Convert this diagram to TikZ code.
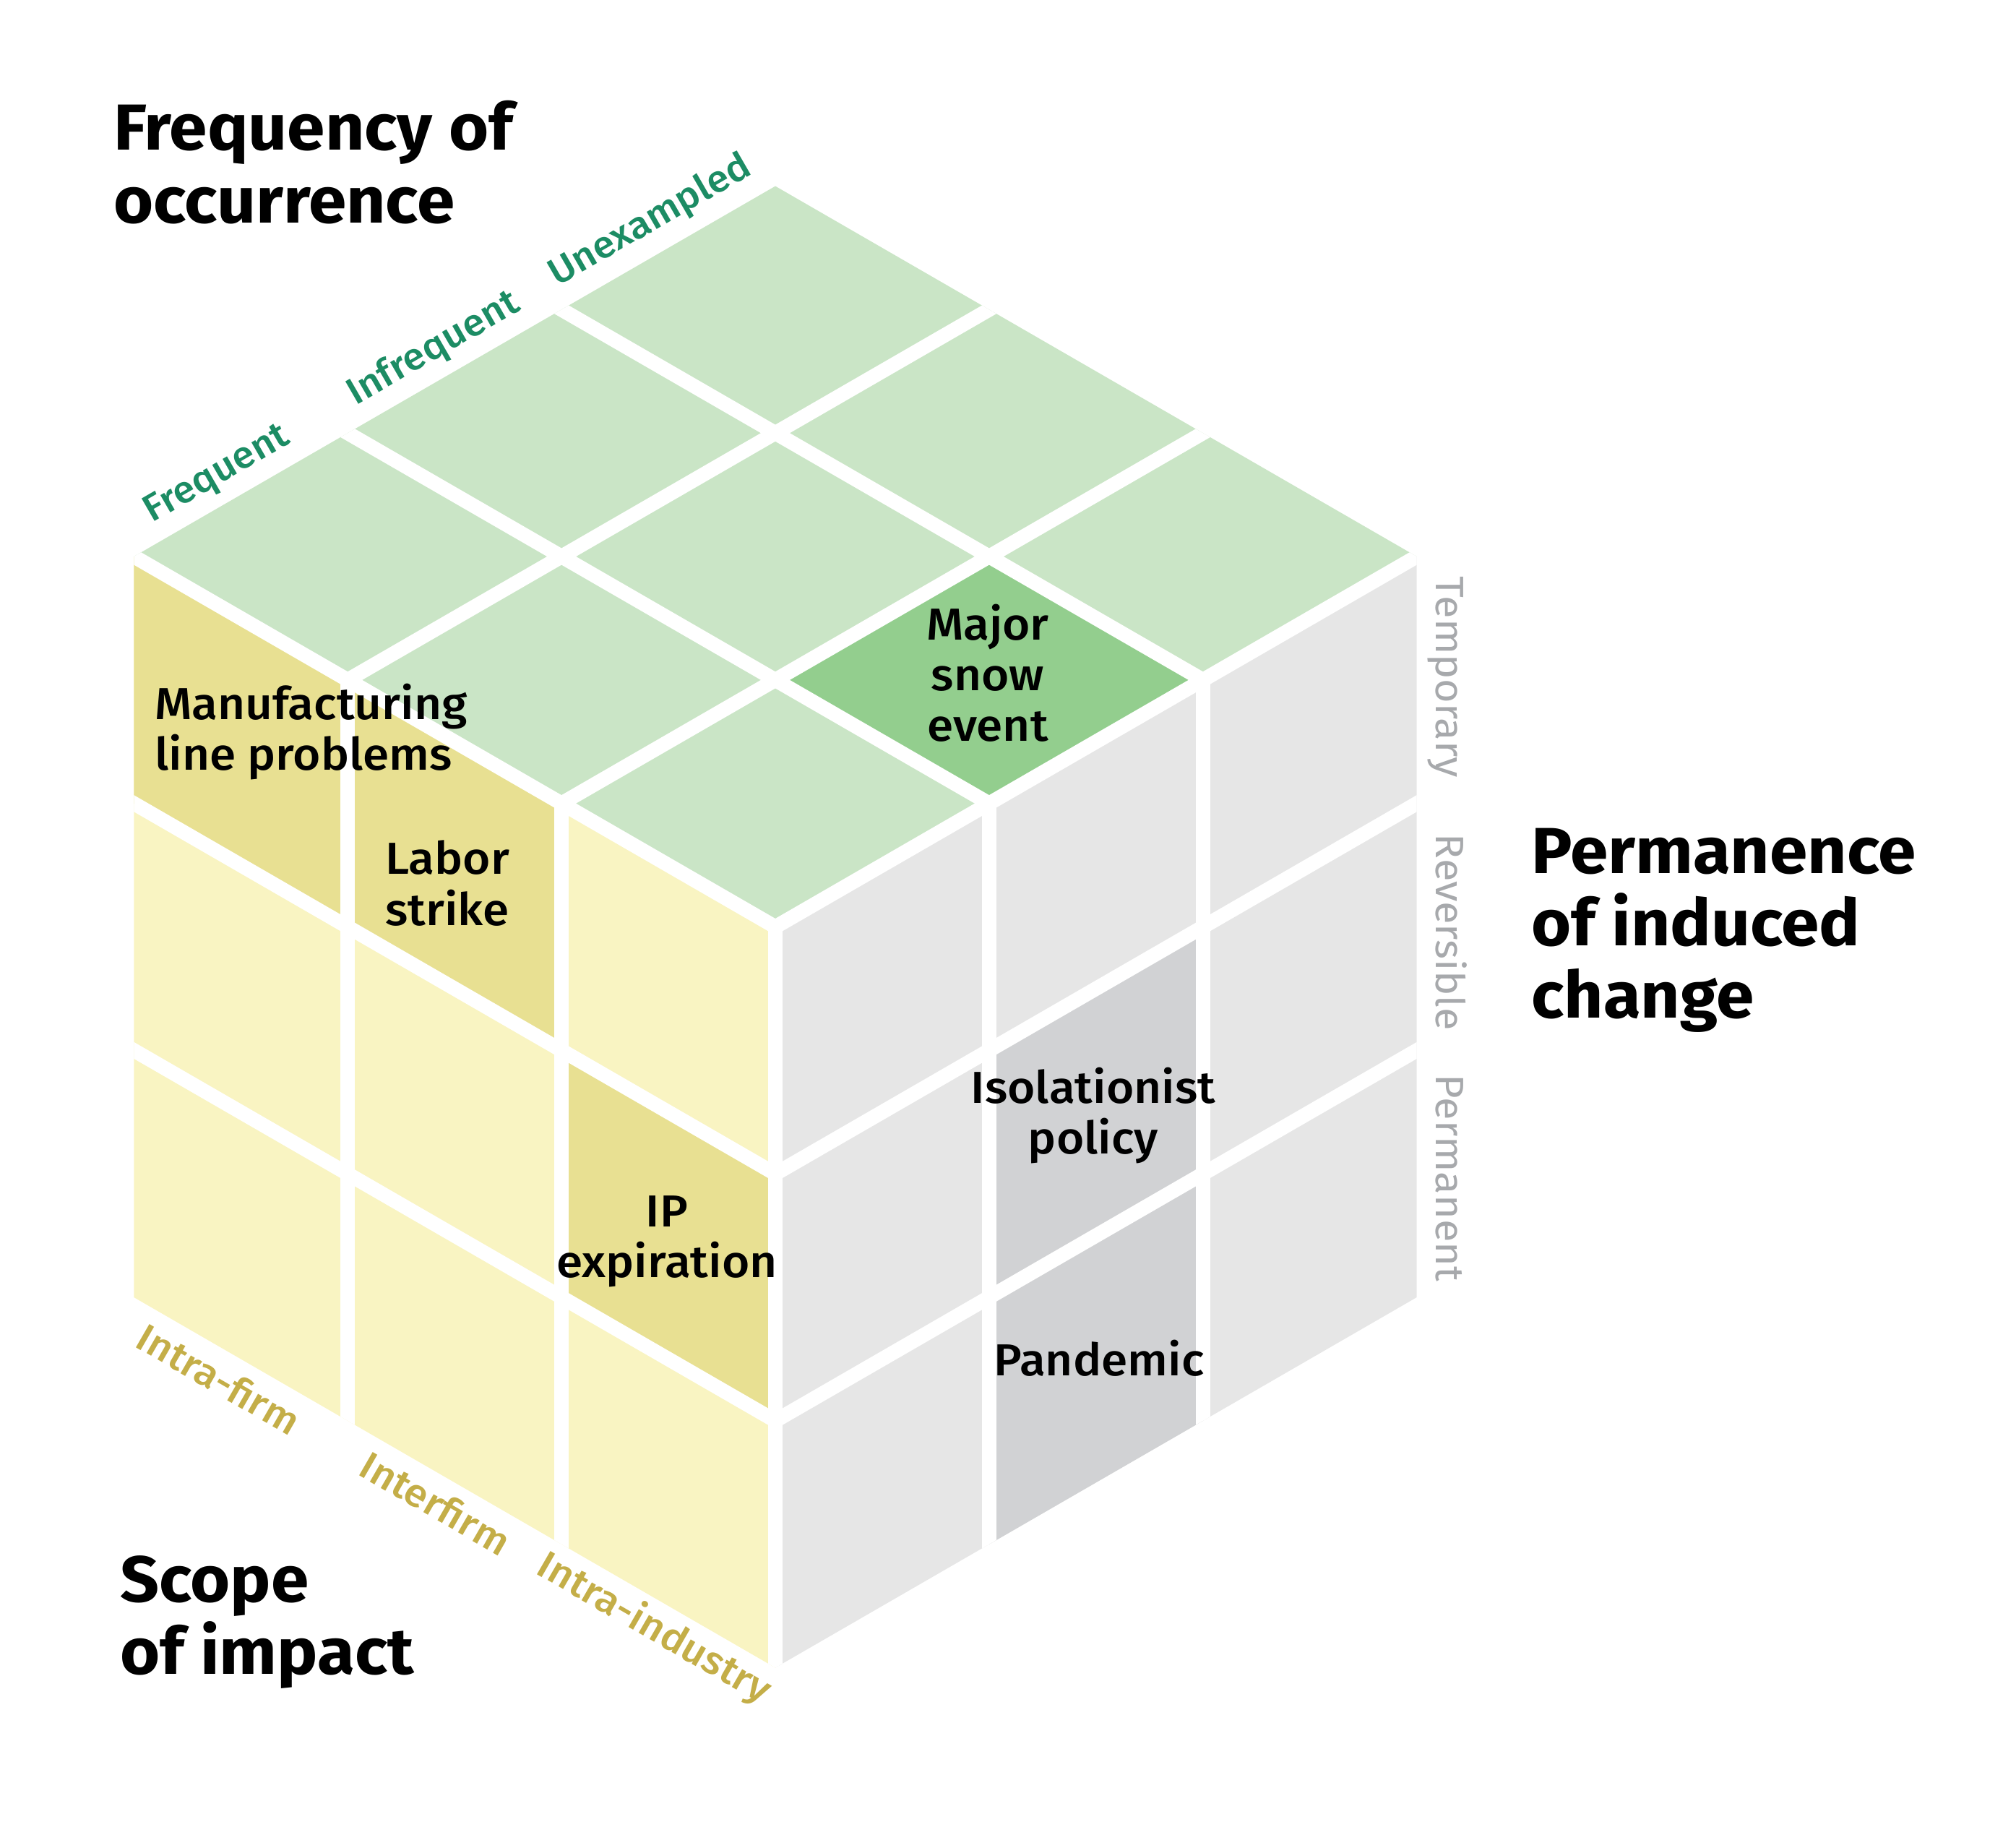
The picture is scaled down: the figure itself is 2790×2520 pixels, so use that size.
\documentclass[tikz,border=0pt]{standalone}
\usepackage{fontspec}
\setmainfont{Fira Sans}[FakeStretch=1.05]
\newfontfamily\medfont{Fira Sans Medium}[FakeStretch=1.06]
\usetikzlibrary{calc}
\definecolor{topl}{HTML}{CAE5C6}
\definecolor{topd}{HTML}{93CE8E}
\definecolor{lefl}{HTML}{F9F4C2}
\definecolor{lefd}{HTML}{E8E092}
\definecolor{rigl}{HTML}{E6E6E6}
\definecolor{rigd}{HTML}{D1D2D4}
\definecolor{txgreen}{HTML}{1C8C64}
\definecolor{txyellow}{HTML}{C4AE48}
\definecolor{txgray}{HTML}{A7A9AC}
\begin{document}
\begin{tikzpicture}[x=1pt,y=-1pt,
  whitegap/.style={draw=white, line width=20pt},
  titletext/.style={anchor=base west, inner sep=0pt, font=\bfseries\fontsize{90}{100}\selectfont},
  celltext/.style={anchor=base, inner sep=0pt, font=\medfont\fontsize{62}{70}\selectfont},
  celltextl/.style={anchor=base west, inner sep=0pt, font=\medfont\fontsize{62}{70}\selectfont},
  freqlab/.style={anchor=base, inner sep=0pt, text=txgreen, rotate=30, font=\medfont\fontsize{52}{60}\selectfont},
  scopelab/.style={anchor=base, inner sep=0pt, text=txyellow, rotate=-30, font=\medfont\fontsize{54}{60}\selectfont},
  permlab/.style={anchor=base, inner sep=0pt, text=txgray, rotate=-90, font=\fontsize{55}{60}\selectfont}]
\useasboundingbox (0,0) rectangle (2790,2520);
\coordinate (C) at (1073,1282.5);
\coordinate (A) at (295.89,-170.83);
\coordinate (B) at (-295.89,-170.83);
\coordinate (D) at (0,341.67);
\foreach \i in {0,1,2,3}{\foreach \j in {0,1,2,3}{
  \coordinate (t\i\j) at ($(C)+\i*(A)+\j*(B)$);
  \coordinate (l\i\j) at ($(C)+\i*(B)+\j*(D)$);
  \coordinate (r\i\j) at ($(C)+\i*(A)+\j*(D)$);
}}
% faces
\fill[topl] (t00) -- (t30) -- (t33) -- (t03) -- cycle;
\fill[lefl] (l00) -- (l30) -- (l33) -- (l03) -- cycle;
\fill[rigl] (r00) -- (r30) -- (r33) -- (r03) -- cycle;
% highlighted cells
\fill[topd] (t10) -- (t20) -- (t21) -- (t11) -- cycle;
\fill[lefd] (l20) -- (l30) -- (l31) -- (l21) -- cycle;
\fill[lefd] (l10) -- (l20) -- (l21) -- (l11) -- cycle;
\fill[lefd] (l01) -- (l11) -- (l12) -- (l02) -- cycle;
\fill[rigd] (r11) -- (r21) -- (r22) -- (r12) -- cycle;
\fill[rigd] (r12) -- (r22) -- (r23) -- (r13) -- cycle;
% white gaps
\begin{scope}
\clip (t33) -- (t03) -- (l33) -- (l03) -- (r33) -- (r30) -- cycle;
\foreach \n in {0,1,2}{
  \draw[whitegap, shorten >=-40pt] (t0\n) -- (t3\n);
  \draw[whitegap, shorten >=-40pt] (t\n0) -- (t\n3);
  \draw[whitegap, shorten >=-40pt] (l\n0) -- (l\n3);
}
\foreach \n in {1,2}{
  \draw[whitegap, shorten >=-40pt] (l0\n) -- (l3\n);
  \draw[whitegap, shorten >=-40pt] (r0\n) -- (r3\n);
  \draw[whitegap, shorten >=-40pt] (r\n0) -- (r\n3);
}
\end{scope}
% titles
\node[titletext] (f1) at (157,207) {Frequency of};
\node[titletext] (f2) at (157,308) {occurrence};
\node[titletext] (p1) at (2119,1208) {Permanence};
\node[titletext] (p2) at (2119,1308) {of induced};
\node[titletext] (p3) at (2119,1408) {change};
\node[titletext] (s1) at (166,2216) {Scope};
\node[titletext] (s2) at (166,2316) {of impact};
% cell texts
\node[celltextl] (m1) at (214,995) {Manufacturing};
\node[celltextl] (m2) at (214,1065) {line problems};
\node[celltext] (lb1) at (619,1209) {Labor};
\node[celltext] (lb2) at (619,1280) {strike};
\node[celltext] (sn1) at (1367,885) {Major};
\node[celltext] (sn2) at (1367,955) {snow};
\node[celltext] (sn3) at (1367,1025) {event};
\node[celltext] (ip1) at (923,1697) {IP};
\node[celltext] (ip2) at (923,1767) {expiration};
\node[celltext] (is1) at (1513,1526) {Isolationist};
\node[celltext] (is2) at (1513,1596) {policy};
\node[celltext] (pd) at (1521,1903) {Pandemic};
% axis labels
\node[freqlab] (fq1) at (307,668) {Frequent};
\node[freqlab] (fq2) at (607,495) {Infrequent};
\node[freqlab] (fq3) at (907,318) {Unexampled};
\node[scopelab] (sc1) at (293,1925) {Intra-firm};
\node[scopelab] (sc2) at (593,2097) {Interfirm};
\node[scopelab] (sc3) at (897,2267) {Intra-industry};
\node[permlab] (pm1) at (1987,937) {Temporary};
\node[permlab] (pm2) at (1987,1290) {Reversible};
\node[permlab] (pm3) at (1987,1630) {Permanent};
\end{tikzpicture}
\end{document}
